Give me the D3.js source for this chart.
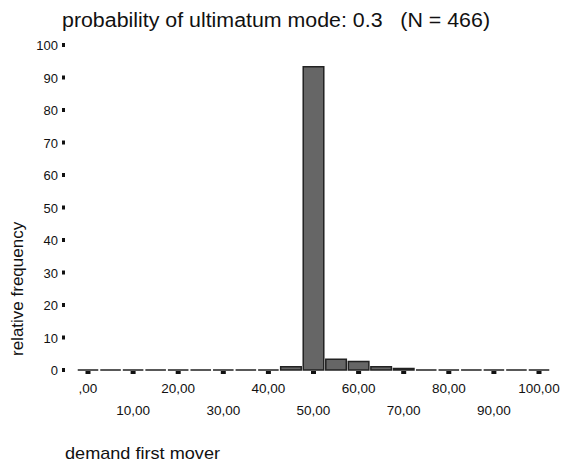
<!DOCTYPE html>
<html>
<head>
<meta charset="utf-8">
<script src="https://cdn.jsdelivr.net/npm/d3@7"></script>
<style>
  body { margin: 0; background: #fff; }
  text { font-family: "Liberation Sans", Arial, sans-serif; fill: #111; white-space: pre; }
</style>
</head>
<body>
<div id="chart"></div>
<script>
// bins of demand (centre value) and relative frequency in percent
const bins = [0, 5, 10, 15, 20, 25, 30, 35, 40, 45, 50, 55, 60, 65, 70, 75, 80, 85, 90, 95, 100];
const freq = [0, 0, 0, 0, 0, 0, 0, 0, 0, 1.0, 93.3, 3.3, 2.6, 1.0, 0.5, 0, 0, 0, 0, 0, 0];

const xTicks = [0, 10, 20, 30, 40, 50, 60, 70, 80, 90, 100];
const xTickLabels = [",00", "10,00", "20,00", "30,00", "40,00", "50,00", "60,00", "70,00", "80,00", "90,00", "100,00"];
const yTicks = [0, 10, 20, 30, 40, 50, 60, 70, 80, 90, 100];

const W = 563, H = 469;

const svg = d3.select("#chart").append("svg")
    .attr("width", W)
    .attr("height", H);

// scales
const x = d3.scaleLinear().domain([0, 100]).range([88, 539]);
const y = d3.scaleLinear().domain([0, 100]).range([370, 45]);
const half = (x(5) - x(0)) / 2;

// title (the reference font runs a bit wider, so stretch to its width)
svg.append("text")
    .attr("x", 62)
    .attr("y", 27)
    .attr("xml:space", "preserve")
    .attr("textLength", 428)
    .attr("lengthAdjust", "spacingAndGlyphs")
    .style("font-size", "20px")
    .text("probability of ultimatum mode: 0.3   (N = 466)");

// bars (a path so that empty bins still show as a flat line)
svg.append("g")
    .selectAll("path")
    .data(bins.map((b, i) => ({ b, v: freq[i] })))
    .join("path")
    .attr("d", d => {
        const x0 = x(d.b) - half + 1, x1 = x(d.b) + half - 1;
        return `M${x0},${y(0)}V${y(d.v)}H${x1}V${y(0)}Z`;
    })
    .attr("fill", "#666")
    .attr("stroke", "#222")
    .attr("stroke-width", 1.5);

// y axis: little square marks + labels
const yAxis = svg.append("g");
yAxis.selectAll("rect")
    .data(yTicks)
    .join("rect")
    .attr("x", 62)
    .attr("y", d => y(d) - 2)
    .attr("width", 3)
    .attr("height", 4)
    .attr("fill", "#111");
yAxis.selectAll("text")
    .data(yTicks)
    .join("text")
    .attr("x", 58)
    .attr("y", d => y(d) + 5)
    .attr("text-anchor", "end")
    .style("font-size", "13px")
    .text(d => d);

// x axis: marks under the bars + two staggered rows of labels
const xAxis = svg.append("g");
xAxis.selectAll("rect")
    .data(xTicks)
    .join("rect")
    .attr("x", d => x(d) - 2.5)
    .attr("y", 371)
    .attr("width", 5)
    .attr("height", 3)
    .attr("fill", "#111");
xAxis.selectAll("text")
    .data(xTicks)
    .join("text")
    .attr("x", d => x(d))
    .attr("y", (d, i) => i % 2 === 0 ? 393 : 415)
    .attr("text-anchor", "middle")
    .style("font-size", "13.5px")
    .text((d, i) => xTickLabels[i]);

// axis titles
svg.append("text")
    .attr("transform", "translate(23,356) rotate(-90)")
    .style("font-size", "17px")
    .text("relative frequency");

svg.append("text")
    .attr("x", 65)
    .attr("y", 459)
    .attr("textLength", 155)
    .attr("lengthAdjust", "spacingAndGlyphs")
    .style("font-size", "17px")
    .text("demand first mover");
</script>
</body>
</html>
